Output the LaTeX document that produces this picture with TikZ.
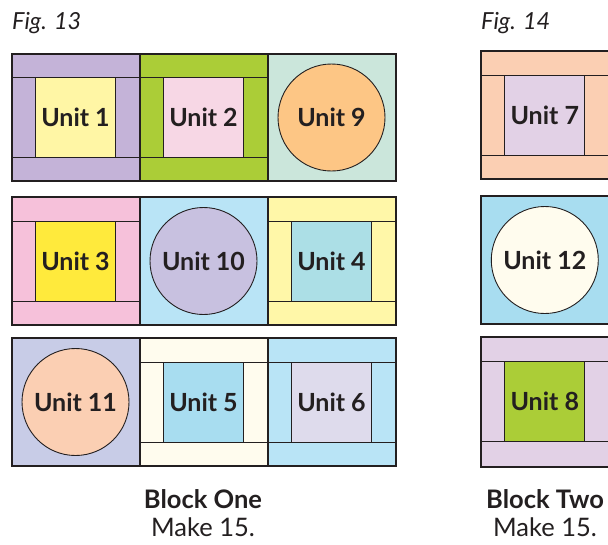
\documentclass[tikz,border=0pt]{standalone}
\usepackage{fontspec}
\setmainfont{Lato}
\definecolor{ink}{HTML}{231F20}
\definecolor{lav}{HTML}{C4B3D8}
\definecolor{paleyel}{HTML}{FFF6A5}
\definecolor{grn}{HTML}{ABCD37}
\definecolor{pinkl}{HTML}{F7D7E5}
\definecolor{mint}{HTML}{CBE6DB}
\definecolor{orng}{HTML}{FDC685}
\definecolor{pinkm}{HTML}{F6C1DA}
\definecolor{yel}{HTML}{FFEA3C}
\definecolor{skyl}{HTML}{B9E4F6}
\definecolor{lavc}{HTML}{C8C1E0}
\definecolor{yell}{HTML}{FFF7A8}
\definecolor{aqua}{HTML}{ACDFE6}
\definecolor{periw}{HTML}{C8CCE7}
\definecolor{peach}{HTML}{FBCFB3}
\definecolor{cream}{HTML}{FFFCEE}
\definecolor{blue}{HTML}{A8DDF0}
\definecolor{lilac}{HTML}{DEDBEC}
\definecolor{mauve}{HTML}{E2D1E6}
\tikzset{
  thickline/.style={draw=ink, line width=2pt},
  thinline/.style={draw=ink, line width=0.9pt},
  sq/.style={rectangle, draw=ink, line width=0.9pt, minimum width=80pt, minimum height=80pt, inner sep=0pt, text=ink, font=\bfseries\fontsize{25}{25}\selectfont},
  circ/.style={circle, draw=ink, line width=0.9pt, minimum size=107pt, inner sep=0pt, text=ink, font=\bfseries\fontsize{25}{25}\selectfont},
  figlbl/.style={anchor=base west, inner sep=0pt, text=ink, font=\itshape\fontsize{23.5}{23.5}\selectfont},
  blklbl/.style={anchor=base, inner sep=0pt, text=ink, font=\bfseries\fontsize{25.5}{25.5}\selectfont},
  mklbl/.style={anchor=base, inner sep=0pt, text=ink, font=\fontsize{25.5}{25.5}\selectfont}
}
% #1 name, #2 cx, #3 cy, #4 half height, #5 frame colour, #6 centre colour, #7 label
\newcommand\qframeunit[7]{%
  \fill[#5] ({#2-64},{#3-#4}) rectangle ({#2+64},{#3+#4});
  \draw[thinline] ({#2-64},{#3-40}) -- ({#2+64},{#3-40});
  \draw[thinline] ({#2-64},{#3+40}) -- ({#2+64},{#3+40});
  \node[sq, fill=#6] (#1) at (#2,#3) {#7};
  \draw[thickline] ({#2-64},{#3-#4}) rectangle ({#2+64},{#3+#4});
}
\newcommand\qcircunit[7]{%
  \fill[#5] ({#2-64},{#3-#4}) rectangle ({#2+64},{#3+#4});
  \node[circ, fill=#6] (#1) at (#2,#3) {#7};
  \draw[thickline] ({#2-64},{#3-#4}) rectangle ({#2+64},{#3+#4});
}
\begin{document}
\begin{tikzpicture}[x=1pt,y=-1pt]
\useasboundingbox (0,0) rectangle (608,544);
\clip (0,0) rectangle (608,544);
\node[figlbl] (fig13) at (12,29.3) {Fig. 13};
\node[figlbl] (fig14) at (481,29.3) {Fig. 14};
% Block One
\qframeunit{u1}{75.5}{117.5}{63.5}{lav}{paleyel}{Unit 1}
\qframeunit{u2}{203.5}{117.5}{63.5}{grn}{pinkl}{Unit 2}
\qcircunit{u9}{331.5}{117.5}{63.5}{mint}{orng}{Unit 9}
\qframeunit{u3}{75.5}{261}{64}{pinkm}{yel}{Unit 3}
\qcircunit{u10}{203.5}{261}{64}{skyl}{lavc}{Unit 10}
\qframeunit{u4}{331.5}{261}{64}{yell}{aqua}{Unit 4}
\qcircunit{u11}{75.5}{402}{64}{periw}{peach}{Unit 11}
\qframeunit{u5}{203.5}{402}{64}{cream}{blue}{Unit 5}
\qframeunit{u6}{331.5}{402}{64}{skyl}{lilac}{Unit 6}
% Block Two
\qframeunit{u7}{544.8}{115.2}{64.2}{peach}{mauve}{Unit 7}
\qcircunit{u12}{544.8}{260}{64.3}{blue}{cream}{Unit 12}
\qframeunit{u8}{544.8}{401.7}{65}{mauve}{grn}{Unit 8}
% captions
\node[blklbl] (b1) at (203,508.3) {Block One};
\node[mklbl] (m1) at (203,536) {Make 15.};
\node[blklbl] (b2) at (545,508.3) {Block Two};
\node[mklbl] (m2) at (545,536) {Make 15.};
\end{tikzpicture}
\end{document}
